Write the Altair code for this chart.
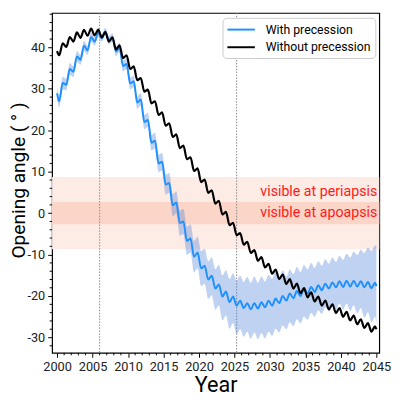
import altair as alt
import pandas as pd

# ---------------- data ----------------
# sample times: start, then trough (yr+0.3) and crest (yr+0.8) of each yearly wobble, end
years = list(range(2000, 2045))
t = [2000.0] + [v for y in years for v in (round(y + 0.3, 1), round(y + 0.8, 1))] + [2045.0]

black = [39.1,
         38.1, 41.0, 40.1, 42.5, 41.4, 43.6, 42.3, 44.2, 42.8, 44.5,
         42.9, 44.3, 42.4, 43.7, 41.4, 42.4, 39.5, 40.5, 37.4, 38.1,
         34.8, 35.4, 32.1, 32.6, 29.3, 29.8, 26.5, 27.0, 23.7, 24.3,
         21.1, 21.7, 18.4, 19.0, 15.7, 16.3, 13.0, 13.5, 10.2, 10.8,
         7.5, 8.1, 4.9, 5.5, 2.3, 3.0, -0.3, 0.3, -2.9, -2.3,
         -5.3, -4.8, -7.6, -6.9, -9.6, -8.9, -11.5, -10.6, -13.1, -12.2,
         -14.6, -13.6, -15.9, -14.8, -17.1, -15.9, -18.2, -17.0, -19.3, -18.1,
         -20.3, -19.1, -21.3, -20.1, -22.3, -21.1, -23.2, -22.0, -24.1, -22.9,
         -25.0, -23.8, -25.9, -24.7, -26.8, -25.6, -27.7, -26.5, -28.6, -27.3,
         -28.0]

blue = [28.9,
        27.0, 31.4, 31.0, 34.8, 34.1, 37.8, 37.0, 40.4, 39.3, 42.5,
        41.4, 43.6, 42.2, 43.8, 41.7, 42.4, 39.0, 40.0, 35.5, 36.0,
        31.3, 31.8, 26.7, 27.4, 22.0, 22.5, 17.0, 17.5, 12.0, 12.4,
        6.9, 7.3, 1.9, 2.6, -2.4, -2.0, -6.7, -6.1, -10.5, -9.5,
        -13.3, -12.7, -16.0, -15.1, -18.2, -17.2, -20.1, -18.9, -21.5, -20.1,
        -22.3, -21.1, -22.9, -21.7, -23.2, -21.7, -23.0, -21.5, -22.7, -21.1,
        -22.3, -20.6, -21.7, -20.0, -21.1, -19.4, -20.5, -18.8, -20.0, -18.3,
        -19.4, -17.8, -19.0, -17.4, -18.6, -17.0, -18.2, -16.7, -17.9, -16.4,
        -17.8, -16.3, -17.7, -16.3, -17.7, -16.4, -17.9, -16.6, -18.1, -16.8,
        -17.6]

# spread of the "with precession" band above / below the curve, per year 2000..2045
band_up = [1.5, 1.4, 1.3, 1.2, 1.1, 1.0, 0.9, 1.0, 1.1, 1.3,
           1.4, 1.5, 1.7, 1.9, 2.1, 2.4, 2.7, 3.0, 3.4, 3.8,
           4.1, 4.4, 4.7, 5.1, 5.6, 6.0, 6.3, 6.4, 6.2, 6.2,
           6.5, 6.2, 5.8, 5.8, 5.8, 5.8, 5.8, 5.9, 6.0, 6.1,
           6.5, 7.0, 7.6, 8.3, 9.0, 9.8]
band_dn = [1.5, 1.4, 1.3, 1.2, 1.1, 1.0, 0.9, 1.0, 1.1, 1.3,
           1.4, 1.5, 1.7, 1.9, 2.1, 2.4, 2.7, 3.0, 3.4, 3.8,
           4.3, 4.7, 5.1, 5.8, 6.4, 6.9, 6.9, 7.1, 7.4, 7.5,
           7.3, 7.1, 6.9, 6.8, 6.6, 6.3, 6.0, 5.7, 5.5, 5.4,
           5.5, 5.9, 6.5, 7.3, 8.2, 9.2]

series_names = ["With precession", "Without precession"]
series_colors = ["#1e90ff", "#000000"]

zone_lo = [-8.7, -2.7]
zone_hi = [8.7, 2.7]
zone_colors = ["#fdebe5", "#fbd5c7"]

vlines = [2006.0, 2025.3]

notes = ["visible at periapsis", "visible at apoapsis"]
notes_y = [5.0, 0.0]
notes_x = [2045.12, 2045.12]

x_major = list(range(2000, 2046, 5))
x_minor = [y for y in range(2000, 2046) if y % 5]
y_major = list(range(-30, 41, 10))
y_minor = [v for v in range(-32, 49, 2) if v % 10]

# ---------------- tables ----------------
blue_df = pd.DataFrame({"t": t, "value": blue, "series": series_names[0]})
black_df = pd.DataFrame({"t": t, "value": black, "series": series_names[1]})
band_df = pd.DataFrame({
    "t": t,
    "lo": [b - band_dn[int(x) - 2000] for x, b in zip(t, blue)],
    "hi": [b + band_up[int(x) - 2000] for x, b in zip(t, blue)],
})
zone_df = pd.DataFrame({"lo": zone_lo, "hi": zone_hi, "col": zone_colors})
vline_df = pd.DataFrame({"t": vlines})
note_df = pd.DataFrame({"x": notes_x, "y": notes_y, "label": notes})
xminor_df = pd.DataFrame({"v": x_minor})
yminor_df = pd.DataFrame({"v": y_minor})

W, H = 334, 347
FONT = "Roboto"

xscale = alt.Scale(domain=[1999.3, 2045.4], nice=False, zero=False)
yscale = alt.Scale(domain=[-33.7, 48.3], nice=False, zero=False)

xaxis = alt.Axis(values=x_major, format="d", grid=False, domain=False,
                 tickSize=4.5, tickColor="black", tickWidth=1,
                 labelPadding=3, labelFont=FONT, labelFontSize=13, labelColor="#222222",
                 title="Year", titleFont=FONT, titleFontSize=22, titleFontWeight="normal",
                 titleColor="black", titleBaseline="alphabetic", titleY=39, titleX=W / 2)
yaxis = alt.Axis(values=y_major, labelExpr="toString(datum.value)", grid=False, domain=False,
                 tickSize=4.5, tickColor="black", tickWidth=1,
                 labelPadding=3, labelFont=FONT, labelFontSize=13, labelColor="#222222",
                 title="Opening angle ( ° )", titleFont=FONT, titleFontSize=19.5,
                 titleFontWeight="normal", titleColor="black", titleAngle=270,
                 titleBaseline="alphabetic", titleAlign="center", titleX=-28, titleY=H / 2 - 3)


def X(f):
    return alt.X(f"{f}:Q", scale=xscale, axis=xaxis)


def Y(f):
    return alt.Y(f"{f}:Q", scale=yscale, axis=yaxis)


color_scale = alt.Scale(domain=series_names, range=series_colors)
legend = alt.Legend(title=None, orient="none", legendX=174, legendY=5,
                    fillColor="white", strokeColor="#cccccc", cornerRadius=4, padding=4,
                    symbolType="M-2,0H2", symbolSize=196, symbolStrokeWidth=2,
                    symbolOffset=7, labelOffset=17, rowPadding=3,
                    labelFont=FONT, labelFontSize=12.5, labelColor="black")

zones = alt.Chart(zone_df).mark_rect().encode(
    y=Y("lo"), y2="hi", x=alt.value(0), x2=alt.value(W),
    color=alt.Color("col:N", scale=None))

rules = alt.Chart(vline_df).mark_rule(color="#888888", strokeDash=[1.5, 1.5], strokeWidth=1).encode(
    x=X("t"))

band = alt.Chart(band_df).mark_area(color="#4a7fd8", opacity=0.35, interpolate="monotone").encode(
    x=X("t"), y=Y("lo"), y2="hi")

blue_line = alt.Chart(blue_df).mark_line(strokeWidth=2, interpolate="monotone").encode(
    x=X("t"), y=Y("value"),
    color=alt.Color("series:N", scale=color_scale, legend=legend))

black_line = alt.Chart(black_df).mark_line(strokeWidth=2.2, interpolate="monotone").encode(
    x=X("t"), y=Y("value"),
    color=alt.Color("series:N", scale=color_scale, legend=legend))

texts = alt.Chart(note_df).mark_text(align="right", baseline="middle", font=FONT,
                                     fontSize=14.5, color="#ff1a1a").encode(
    x=X("x"), y=Y("y"), text="label:N")

xminor = alt.Chart(xminor_df).mark_rule(color="black", strokeWidth=1).encode(
    x=X("v"), y=alt.value(H), y2=alt.value(H + 2.5))
yminor = alt.Chart(yminor_df).mark_rule(color="black", strokeWidth=1).encode(
    y=Y("v"), x=alt.value(-2.5), x2=alt.value(0))

chart = alt.layer(zones, rules, band, blue_line, black_line, texts, xminor, yminor).properties(
    width=W, height=H,
    padding={"left": 45, "top": 1, "right": 13, "bottom": 41},
    autosize=alt.AutoSizeParams(type="none"),
).configure_view(stroke="black", strokeWidth=1.2)

chart.save("out.html", embed_options={"renderer": "svg", "actions": False})
